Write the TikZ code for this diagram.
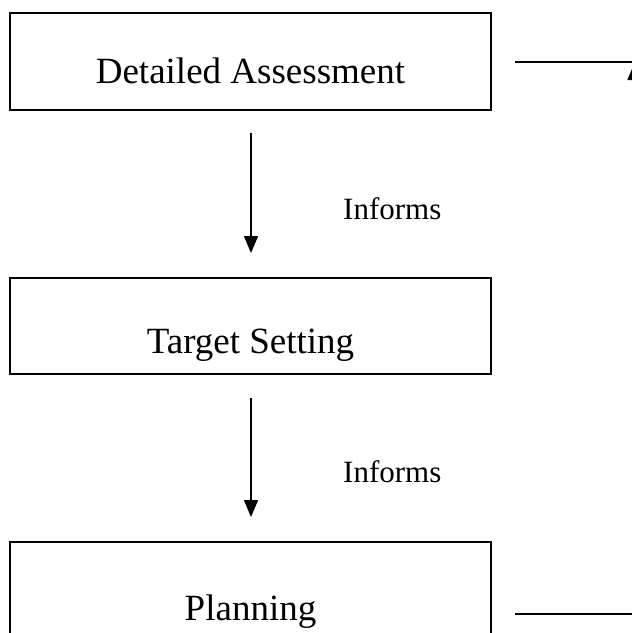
\documentclass[tikz,border=0pt]{standalone}
\usepackage{fontspec}
\setmainfont{Liberation Serif}
\usetikzlibrary{arrows.meta}
\begin{document}
\begin{tikzpicture}[x=1pt,y=-1pt,
  boxstyle/.style={draw=black,line width=1.8pt,fill=none},
  boxtext/.style={font=\fontsize{37}{42}\selectfont,anchor=base,inner sep=0pt},
  lbltext/.style={font=\fontsize{31}{35}\selectfont,anchor=base west,inner sep=0pt},
  flow/.style={line width=1.6pt,-{Triangle[width=14pt,length=17pt]}},
  plainline/.style={line width=1.6pt}]
\useasboundingbox (0,0) rectangle (632,633);
\clip (0,0) rectangle (632,633);
% boxes
\draw[boxstyle] (10,13) rectangle (491,110);
\draw[boxstyle] (10,278) rectangle (491,374);
\draw[boxstyle] (10,542) rectangle (491,650);
\node[boxtext] (da) at (250.5,83) {Detailed Assessment};
\node[boxtext] (ts) at (250.5,353) {Target Setting};
\node[boxtext] (pl) at (250.5,620) {Planning};
% connectors
\coordinate (a1s) at (251,133);
\coordinate (a1e) at (251,253);
\coordinate (a2s) at (251,398);
\coordinate (a2e) at (251,517);
\draw[flow] (a1s) -- (a1e);
\draw[flow] (a2s) -- (a2e);
\node[lbltext] (inf1) at (343,219) {Informs};
\node[lbltext] (inf2) at (343,482) {Informs};
% feedback loop on the right
\coordinate (tl) at (515,62);
\coordinate (tr) at (640,62);
\coordinate (bl) at (515,614);
\coordinate (br) at (634.5,614);
\coordinate (up) at (634.5,63);
\draw[plainline] (tl) -- (tr);
\draw[plainline] (bl) -- (br);
\draw[flow] (br) -- (up);
\end{tikzpicture}
\end{document}
